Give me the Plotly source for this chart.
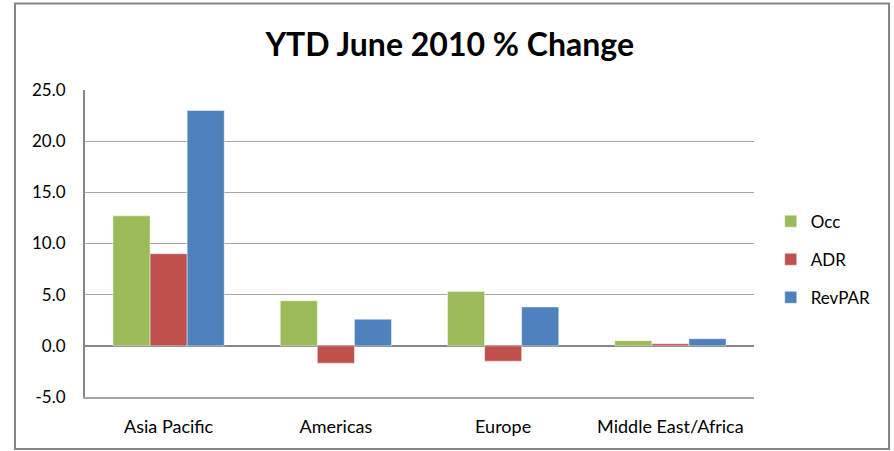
import plotly.graph_objects as go

categories = ["Asia Pacific", "Americas", "Europe", "Middle East/Africa"]
occ = [12.7, 4.4, 5.3, 0.5]
adr = [9.0, -1.7, -1.5, 0.2]
revpar = [23.0, 2.6, 3.8, 0.7]
series_names = ["Occ", "ADR", "RevPAR"]
colors = ["#9BBB59", "#C0504D", "#4F81BD"]
tick_vals = [-5, 0, 5, 10, 15, 20, 25]
tick_text = ["-5.0", "0.0", "5.0", "10.0", "15.0", "20.0", "25.0"]

FONT = "Lato, Calibri, Carlito, sans-serif"

fig = go.Figure()
for name, vals, col in zip(series_names, [occ, adr, revpar], colors):
    fig.add_trace(go.Bar(
        x=categories, y=vals, name=name, legendgroup=name,
        marker=dict(color=col, line=dict(color="rgba(255,255,255,0.45)", width=1)),
    ))

fig.update_layout(
    width=894, height=451,
    margin=dict(l=85, r=140, t=90, b=54),
    paper_bgcolor="white", plot_bgcolor="white",
    barmode="group", bargap=0.335, bargroupgap=0,
    title=dict(text="<b>YTD June 2010 % Change</b>", x=0.503, xanchor="center",
               y=0.9, yanchor="middle", yref="container",
               font=dict(family=FONT, size=32, color="black")),
    font=dict(family=FONT, size=17, color="black"),
    legend=dict(x=1.025, xanchor="left", y=0.63, yanchor="top",
                font=dict(family=FONT, size=17, color="black"),
                traceorder="grouped", tracegroupgap=13,
                itemwidth=30),
    showlegend=True,
)
fig.update_yaxes(range=[-5, 25], tickvals=tick_vals, ticktext=tick_text,
                 showgrid=True, gridcolor="#A6A6A6", gridwidth=1,
                 showline=True, linecolor="#868686", linewidth=2,
                 zeroline=True, zerolinecolor="#868686", zerolinewidth=2,
                 ticks="outside", ticklen=14, tickcolor="rgba(0,0,0,0)",
                 tickfont=dict(family=FONT, size=17, color="black"))
fig.update_xaxes(showgrid=False, showline=True, linecolor="#A6A6A6", linewidth=1.5,
                 ticks="outside", ticklen=13,
                 tickcolor="rgba(0,0,0,0)",
                 tickfont=dict(family=FONT, size=18, color="black"))

# outer chart border
fig.add_shape(type="rect", xref="paper", yref="paper",
              x0=(15 - 85) / 669, x1=(889 - 85) / 669,
              y0=(397 - 449) / 307, y1=(397 - 3.5) / 307,
              line=dict(color="#868686", width=2), fillcolor="rgba(0,0,0,0)",
              layer="below")

fig.write_html("out.html", config={"displayModeBar": False},
               post_script="document.body.style.margin='0px';")
